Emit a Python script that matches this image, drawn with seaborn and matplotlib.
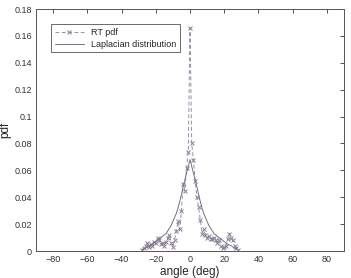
import numpy as np
import matplotlib
matplotlib.use("Agg")
import matplotlib.pyplot as plt
import pandas as pd
import seaborn as sns

# angles (deg) at which both curves are sampled
angle = list(range(-28, 29))

rt_pdf = [0.001, 0.002, 0.004, 0.006, 0.003, 0.005, 0.004, 0.007, 0.006, 0.010,
          0.008, 0.005, 0.006, 0.004, 0.007, 0.010, 0.012, 0.006, 0.003, 0.008,
          0.015, 0.022, 0.016, 0.030, 0.050, 0.045, 0.062, 0.074, 0.166, 0.080,
          0.068, 0.052, 0.040, 0.033, 0.023, 0.013, 0.016, 0.012, 0.010, 0.011,
          0.009, 0.009, 0.010, 0.008, 0.006, 0.008, 0.004, 0.002, 0.003, 0.004,
          0.009, 0.013, 0.010, 0.008, 0.004, 0.002, 0.001]

# fitted laplacian curve
laplace = [0.001, 0.0015, 0.002, 0.003, 0.004, 0.0045, 0.005, 0.006, 0.007, 0.008,
           0.009, 0.010, 0.011, 0.012, 0.013, 0.015, 0.017, 0.019, 0.022, 0.025,
           0.028, 0.032, 0.037, 0.042, 0.048, 0.053, 0.058, 0.063, 0.068, 0.063,
           0.058, 0.053, 0.048, 0.042, 0.037, 0.032, 0.028, 0.025, 0.022, 0.019,
           0.017, 0.015, 0.013, 0.012, 0.011, 0.010, 0.009, 0.008, 0.007, 0.006,
           0.005, 0.0045, 0.004, 0.003, 0.002, 0.0015, 0.001]

df = pd.DataFrame({"angle": angle, "rt": rt_pdf, "lap": laplace})

sns.set_style("white")
plt.rcParams["font.family"] = ["Liberation Sans", "DejaVu Sans"]

fig = plt.figure(figsize=(3.51, 2.78), dpi=100)
ax = fig.add_axes([0.1026, 0.0971, 0.8775, 0.8705])

sns.lineplot(data=df, x="angle", y="rt", color="#9a90a6", linestyle=(0, (4, 2.5)),
             marker="x", markersize=3.5, markeredgewidth=0.7, markeredgecolor="#8a809a",
             linewidth=0.7, label="RT pdf", ax=ax)
sns.lineplot(data=df, x="angle", y="lap", color="#77727f", linewidth=0.7,
             label="Laplacian distribution", ax=ax)

ax.set_xlim(-90, 90)
ax.set_ylim(0, 0.18)
ax.set_xticks(range(-80, 81, 20))
ax.set_yticks(np.arange(0, 0.181, 0.02))
ax.set_yticklabels(["0", "0.02", "0.04", "0.06", "0.08", "0.1", "0.12", "0.14", "0.16", "0.18"])
ax.tick_params(direction="in", length=3, width=0.6, labelsize=6.5, colors="#333333",
               top=True, right=True, pad=3)
for s in ax.spines.values():
    s.set_linewidth(0.7)
    s.set_color("#555555")
ax.set_xlabel("angle (deg)", fontsize=8.5, labelpad=1)
ax.set_ylabel("pdf", fontsize=8.5, labelpad=2)

leg = ax.legend(loc="upper left", bbox_to_anchor=(0.035, 0.955), fontsize=6.5,
                frameon=True, fancybox=False, handlelength=3.2, borderpad=0.4,
                labelspacing=0.3)
leg.get_frame().set_edgecolor("#444444")
leg.get_frame().set_linewidth(0.7)

fig.savefig("out.png", dpi=100)
